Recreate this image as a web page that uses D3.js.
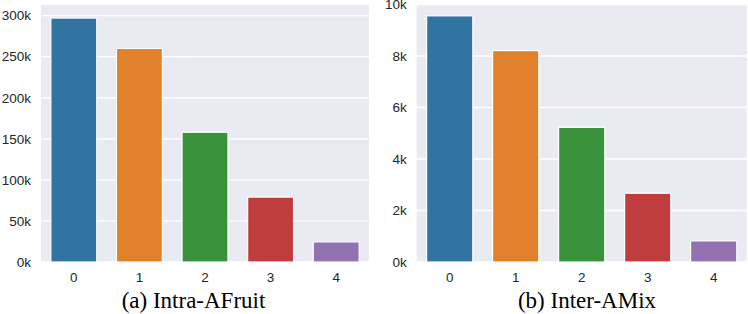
<!DOCTYPE html>
<html lang="en">
	<head>
		<meta charset="utf-8">
		<title>Bar counts per class</title>
		<script type="text/javascript" src="https://cdn.jsdelivr.net/npm/d3@7"></script>
		<style type="text/css">
			body { margin: 0; background: #fff; }
			svg { display: block; }
		</style>
	</head>
	<body>
		<script type="text/javascript">

			//Data
			var categories = ["0", "1", "2", "3", "4"];
			var intraValues = [297000, 260000, 158000, 79000, 24500];
			var interValues = [9560, 8210, 5230, 2670, 820];
			var intraTicks = [0, 50000, 100000, 150000, 200000, 250000, 300000];
			var interTicks = [0, 2000, 4000, 6000, 8000, 10000];
			var barColors = ["#3274a1", "#e1812c", "#3a923a", "#c03d3e", "#9372b2"];

			//Width and height
			var w = 748;
			var h = 314;

			var svg = d3.select("body")
						.append("svg")
						.attr("width", w)
						.attr("height", h);

			// one panel = one seaborn-looking bar plot
			function panel(opts) {
				var g = svg.append("g");

				var x = d3.scaleBand()
						  .domain(categories)
						  .range([opts.left, opts.right])
						  .paddingInner(0.3)
						  .paddingOuter(0.15);

				var y = d3.scaleLinear()
						  .domain([0, opts.yMax])
						  .range([opts.bottom, opts.top]);

				//background
				g.append("rect")
				 .attr("x", opts.left)
				 .attr("y", opts.top)
				 .attr("width", opts.right - opts.left)
				 .attr("height", opts.bottom - opts.top)
				 .style("fill", "#eaeaf2");

				//grid lines
				g.selectAll("line.grid")
				 .data(opts.ticks)
				 .enter()
				 .append("line")
				 .attr("class", "grid")
				 .attr("x1", opts.left)
				 .attr("x2", opts.right)
				 .attr("y1", function(d) { return y(d); })
				 .attr("y2", function(d) { return y(d); })
				 .style("stroke", "#fff")
				 .style("stroke-width", 1.3);

				//bars
				g.selectAll("rect.bar")
				 .data(opts.values)
				 .enter()
				 .append("rect")
				 .attr("class", "bar")
				 .attr("x", function(d, i) { return x(categories[i]); })
				 .attr("width", x.bandwidth())
				 .attr("y", function(d) { return y(d); })
				 .attr("height", function(d) { return y(0) - y(d); })
				 .style("fill", function(d, i) { return barColors[i]; })
				 .style("stroke", "#fff")
				 .style("stroke-width", 1.2);

				//y axis
				var yAxis = d3.axisLeft(y)
							  .tickValues(opts.ticks)
							  .tickSize(0)
							  .tickPadding(10)
							  .tickFormat(function(d) { return (d / 1000) + "k"; });

				g.append("g")
				 .attr("transform", "translate(" + opts.left + ",0)")
				 .call(yAxis)
				 .call(function(a) { a.select(".domain").remove(); })
				 .selectAll("text")
				 .style("font-family", "'Liberation Sans', Arial, sans-serif")
				 .style("font-size", "13.5px")
				 .style("fill", "#262626");

				//x axis
				var xAxis = d3.axisBottom(x)
							  .tickSize(0)
							  .tickPadding(10);

				g.append("g")
				 .attr("transform", "translate(0," + opts.bottom + ")")
				 .call(xAxis)
				 .call(function(a) { a.select(".domain").remove(); })
				 .selectAll("text")
				 .style("font-family", "'Liberation Sans', Arial, sans-serif")
				 .style("font-size", "13.5px")
				 .style("fill", "#262626");

				//caption
				g.append("text")
				 .attr("x", opts.captionX)
				 .attr("y", 307.5)
				 .attr("text-anchor", "middle")
				 .style("font-family", "'Liberation Serif', 'Times New Roman', serif")
				 .style("font-size", "23px")
				 .style("fill", "#000")
				 .text(opts.caption);
			}

			panel({
				left: 41, right: 369, top: 5, bottom: 262,
				yMax: 312900,
				values: intraValues,
				ticks: intraTicks,
				caption: "(a) Intra-AFruit",
				captionX: 193.5
			});

			panel({
				left: 416.7, right: 746.7, top: 4.5, bottom: 262,
				yMax: 10000,
				values: interValues,
				ticks: interTicks,
				caption: "(b) Inter-AMix",
				captionX: 587
			});

		</script>
	</body>
</html>
